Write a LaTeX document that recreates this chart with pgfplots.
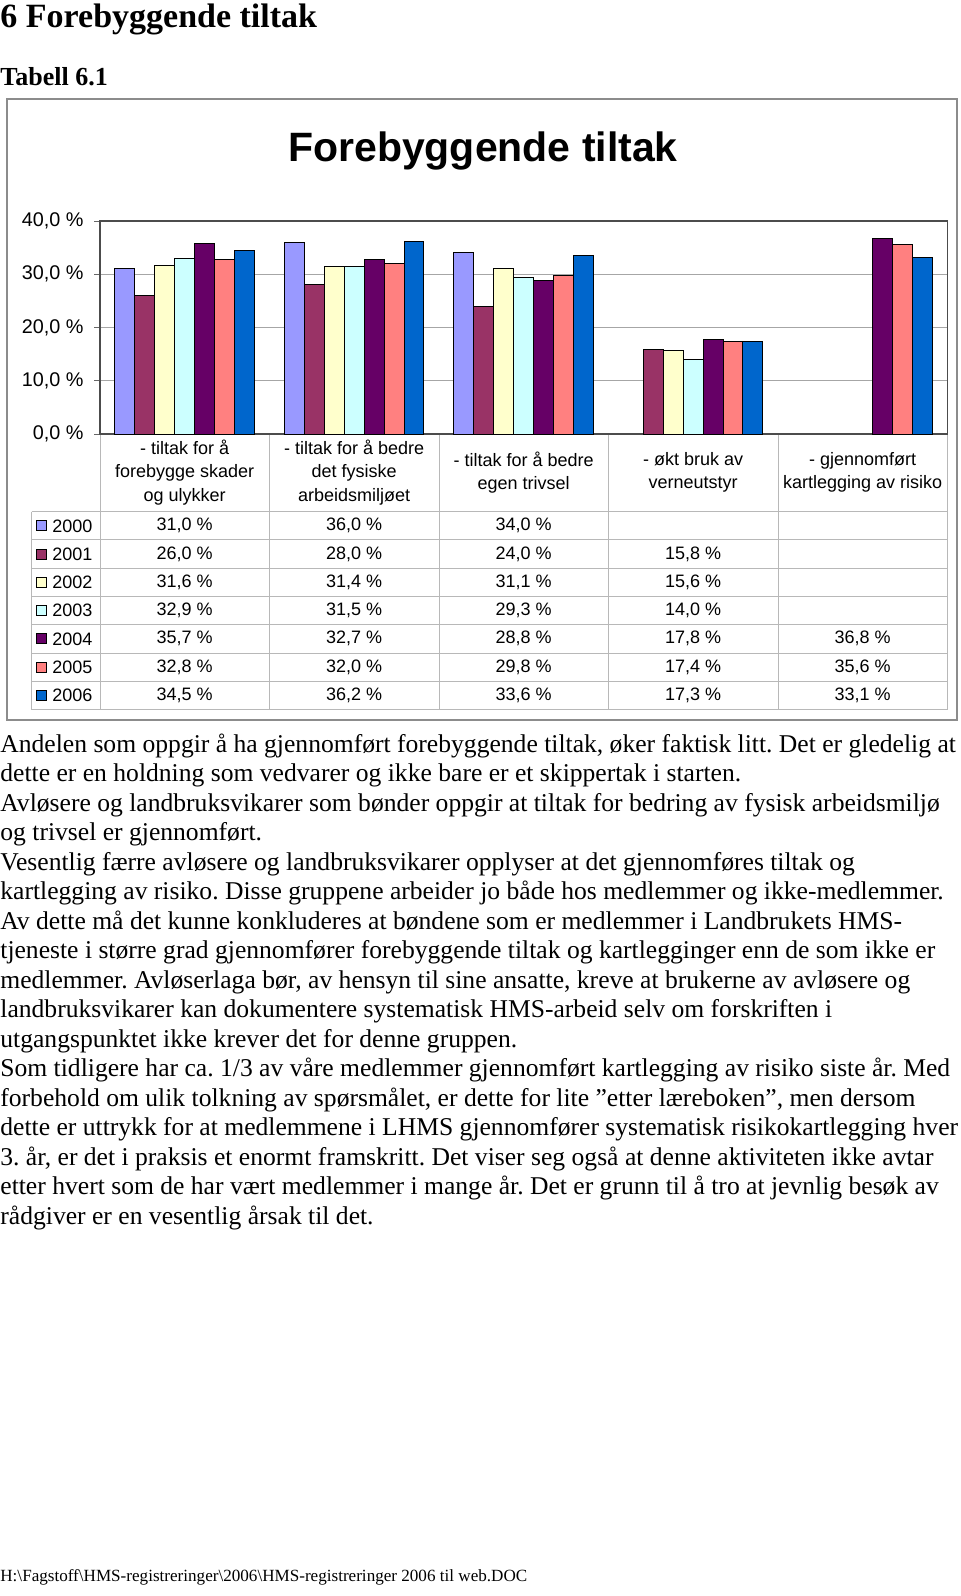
\documentclass[border=0pt]{standalone}
\usepackage{fontspec}
\setmainfont{Liberation Serif}
\newfontfamily\arial{Liberation Sans}
\usepackage{pgfplots}
\pgfplotsset{compat=1.18}
\definecolor{c2000}{HTML}{9999FF}
\definecolor{c2001}{HTML}{993366}
\definecolor{c2002}{HTML}{FFFFCC}
\definecolor{c2003}{HTML}{CCFFFF}
\definecolor{c2004}{HTML}{660066}
\definecolor{c2005}{HTML}{FF8080}
\definecolor{c2006}{HTML}{0066CC}
\frenchspacing
\newcommand{\chartfont}{\arial\fontsize{9}{11.7}\selectfont}
\newcommand{\bodyfont}{\fontsize{12.8}{15}\selectfont}
\newcommand{\bl}[2]{\node[anchor=base west,inner sep=0pt,font=\bodyfont] at (0,{752+29.53*#1}) {#2};}
\newcommand{\trow}[8]{%
  \pgfmathsetmacro\rc{525.8+28.26*#1}
  \filldraw[fill=#3,draw=black,line width=0.35pt] (36,\rc-5) rectangle (46,\rc+5);
  \node[anchor=west,inner sep=0pt,font=\chartfont] at (52,\rc) {#2};
  \node[inner sep=0pt,font=\chartfont] at (184.7,\rc) {#4};
  \node[inner sep=0pt,font=\chartfont] at (354.2,\rc) {#5};
  \node[inner sep=0pt,font=\chartfont] at (523.7,\rc) {#6};
  \node[inner sep=0pt,font=\chartfont] at (693.1,\rc) {#7};
  \node[inner sep=0pt,font=\chartfont] at (862.6,\rc) {#8};
}
\begin{document}
\begin{tikzpicture}
\begin{scope}[x=0.5pt,y=-0.5pt]
\path[use as bounding box] (0,0) rectangle (960,1596);
\node[anchor=base west,inner sep=0pt,font=\bfseries\fontsize{17}{20}\selectfont] at (0,27) {6 Forebyggende tiltak};
\node[anchor=base west,inner sep=0pt,font=\bfseries\fontsize{13}{15}\selectfont] at (0,85) {Tabell 6.1};
\draw[black!45,line width=0.8pt] (7,99) rectangle (957,720);
\node[anchor=base,inner sep=0pt,font=\arial\bfseries\fontsize{20.5}{24}\selectfont] at (483,161) {Forebyggende tiltak};
\end{scope}

\begin{axis}[
  at={(50pt,-217pt)}, anchor=south west,
  scale only axis, width=423.65pt, height=106.5pt,
  xmin=-0.5, xmax=4.5, ymin=0, ymax=40,
  xtick=\empty,
  ytick={0,10,20,30,40},
  yticklabels={{0,0 \%},{10,0 \%},{20,0 \%},{30,0 \%},{40,0 \%}},
  ytick pos=left,
  tick align=outside, major tick length=3pt,
  tick style={black!60,line width=0.5pt},
  ymajorgrids, grid style={black!35,line width=0.5pt},
  axis line style={black!70,line width=0.6pt},
  yticklabel style={font=\arial\fontsize{9.9}{12}\selectfont,inner sep=0pt,anchor=east,xshift=-5pt},
]
\addplot[ybar,bar width=0.117647,bar shift=-0.352941,fill=c2000,draw=black,line width=0.5pt] coordinates {(0,31.0)(1,36.0)(2,34.0)};
\addplot[ybar,bar width=0.117647,bar shift=-0.235294,fill=c2001,draw=black,line width=0.5pt] coordinates {(0,26.0)(1,28.0)(2,24.0)(3,15.8)};
\addplot[ybar,bar width=0.117647,bar shift=-0.117647,fill=c2002,draw=black,line width=0.5pt] coordinates {(0,31.6)(1,31.4)(2,31.1)(3,15.6)};
\addplot[ybar,bar width=0.117647,bar shift=0,fill=c2003,draw=black,line width=0.5pt] coordinates {(0,32.9)(1,31.5)(2,29.3)(3,14.0)};
\addplot[ybar,bar width=0.117647,bar shift=0.117647,fill=c2004,draw=black,line width=0.5pt] coordinates {(0,35.7)(1,32.7)(2,28.8)(3,17.8)(4,36.8)};
\addplot[ybar,bar width=0.117647,bar shift=0.235294,fill=c2005,draw=black,line width=0.5pt] coordinates {(0,32.8)(1,32.0)(2,29.8)(3,17.4)(4,35.6)};
\addplot[ybar,bar width=0.117647,bar shift=0.352941,fill=c2006,draw=black,line width=0.5pt] coordinates {(0,34.5)(1,36.2)(2,33.6)(3,17.3)(4,33.1)};
\end{axis}

\begin{scope}[x=0.5pt,y=-0.5pt]
% table grid
\foreach \xx in {100,269.5,439,608.5,778,947.3} {\draw[black!28,line width=0.5pt] (\xx,435) -- (\xx,709.5);}
\draw[black!28,line width=0.5pt] (31.7,511.7) -- (31.7,709.5);
\foreach \k in {0,...,7} {\draw[black!28,line width=0.5pt] (31.7,{511.7+28.26*\k}) -- (947.3,{511.7+28.26*\k});}
% category labels
\node[align=center,inner sep=0pt,font=\chartfont] at (184.7,472.5) {- tiltak for å\\forebygge skader\\og ulykker};
\node[align=center,inner sep=0pt,font=\chartfont] at (354.2,472.5) {- tiltak for å bedre\\det fysiske\\arbeidsmiljøet};
\node[align=center,inner sep=0pt,font=\chartfont] at (523.7,472.5) {- tiltak for å bedre\\egen trivsel};
\node[align=center,inner sep=0pt,font=\chartfont] at (693.1,472.5) {- økt bruk av\\verneutstyr};
\node[align=center,inner sep=0pt,font=\chartfont] at (862.6,472.5) {- gjennomført\\kartlegging av risiko};
% table rows
\trow{0}{2000}{c2000}{31,0 \%}{36,0 \%}{34,0 \%}{}{}
\trow{1}{2001}{c2001}{26,0 \%}{28,0 \%}{24,0 \%}{15,8 \%}{}
\trow{2}{2002}{c2002}{31,6 \%}{31,4 \%}{31,1 \%}{15,6 \%}{}
\trow{3}{2003}{c2003}{32,9 \%}{31,5 \%}{29,3 \%}{14,0 \%}{}
\trow{4}{2004}{c2004}{35,7 \%}{32,7 \%}{28,8 \%}{17,8 \%}{36,8 \%}
\trow{5}{2005}{c2005}{32,8 \%}{32,0 \%}{29,8 \%}{17,4 \%}{35,6 \%}
\trow{6}{2006}{c2006}{34,5 \%}{36,2 \%}{33,6 \%}{17,3 \%}{33,1 \%}
% body text
\bl{0}{Andelen som oppgir å ha gjennomført forebyggende tiltak, øker faktisk litt. Det er gledelig at}
\bl{1}{dette er en holdning som vedvarer og ikke bare er et skippertak i starten.}
\bl{2}{Avløsere og landbruksvikarer som bønder oppgir at tiltak for bedring av fysisk arbeidsmiljø}
\bl{3}{og trivsel er gjennomført.}
\bl{4}{Vesentlig færre avløsere og landbruksvikarer opplyser at det gjennomføres tiltak og}
\bl{5}{kartlegging av risiko. Disse gruppene arbeider jo både hos medlemmer og ikke-medlemmer.}
\bl{6}{Av dette må det kunne konkluderes at bøndene som er medlemmer i Landbrukets HMS-}
\bl{7}{tjeneste i større grad gjennomfører forebyggende tiltak og kartlegginger enn de som ikke er}
\bl{8}{medlemmer. Avløserlaga bør, av hensyn til sine ansatte, kreve at brukerne av avløsere og}
\bl{9}{landbruksvikarer kan dokumentere systematisk HMS-arbeid selv om forskriften i}
\bl{10}{utgangspunktet ikke krever det for denne gruppen.}
\bl{11}{Som tidligere har ca. 1/3 av våre medlemmer gjennomført kartlegging av risiko siste år. Med}
\bl{12}{forbehold om ulik tolkning av spørsmålet, er dette for lite ”etter læreboken”, men dersom}
\bl{13}{dette er uttrykk for at medlemmene i LHMS gjennomfører systematisk risikokartlegging hver}
\bl{14}{3. år, er det i praksis et enormt framskritt. Det viser seg også at denne aktiviteten ikke avtar}
\bl{15}{etter hvert som de har vært medlemmer i mange år. Det er grunn til å tro at jevnlig besøk av}
\bl{16}{rådgiver er en vesentlig årsak til det.}
% footer
\node[anchor=base west,inner sep=0pt,font=\fontsize{8.55}{10}\selectfont] at (0,1581) {H:\textbackslash Fagstoff\textbackslash HMS-registreringer\textbackslash 2006\textbackslash HMS-registreringer 2006 til web.DOC};
\end{scope}
\end{tikzpicture}
\end{document}
